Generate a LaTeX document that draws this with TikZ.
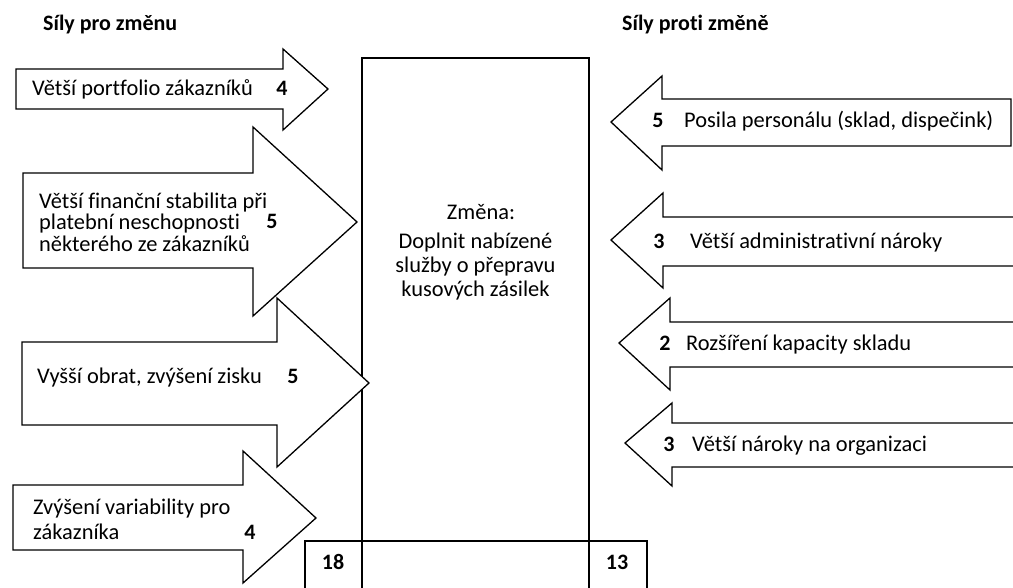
\documentclass[tikz,border=0pt]{standalone}
\usepackage{fontspec}
\setmainfont{Carlito}[Ligatures=NoCommon]

\begin{document}
\begin{tikzpicture}[x=1pt,y=-1pt,
  force/.style={draw=black, line width=1.3pt, line join=miter, fill=white},
  frame/.style={draw=black, line width=2pt},
  lbl/.style={font=\fontsize{22.4}{22}\selectfont, inner sep=0pt, anchor=base west, align=left},
  num/.style={font=\fontsize{22}{22}\selectfont\bfseries, inner sep=0pt, anchor=base},
  heading/.style={font=\fontsize{22}{22}\selectfont\bfseries, inner sep=0pt, anchor=base west},
]
\useasboundingbox (0,0) rectangle (1013,588);

% headings
\node[heading] (pro) at (43,31) {Síly pro změnu};
\node[heading] (proti) at (622,31) {Síly proti změně};

% central change box with the score boxes below it
\draw[frame] (362,58) rectangle (589,600);
\draw[frame] (305,600) -- (305,541) -- (647,541) -- (647,600);
\node[align=center, inner sep=0pt, anchor=base, font=\fontsize{22.4}{22}\selectfont] (zmena) at (481,220) {Změna:};
\node[align=center, inner sep=0pt, anchor=north, font=\fontsize{22.4}{24}\selectfont] (popis) at (475.5,233)
  {Doplnit nabízené\\služby o přepravu\\kusových zásilek};
\node[num] (sumpro) at (333,569) {18};
\node[num] (sumproti) at (617,569) {13};

% forces for the change (pointing right)
\draw[force] (16,69) -- (283,69) -- (283,49) -- (328,89) -- (283,130) -- (283,109) -- (16,109) -- cycle;
\draw[force] (23,173) -- (253,173) -- (253,127) -- (357,222) -- (253,316) -- (253,268) -- (23,268) -- cycle;
\draw[force] (22,342) -- (277,342) -- (277,298) -- (369,383) -- (277,467) -- (277,425) -- (22,425) -- cycle;
\draw[force] (13,485) -- (243,485) -- (243,451) -- (316,518) -- (243,583) -- (243,550) -- (13,550) -- cycle;

\node[lbl] (p1) at (32,96) {Větší portfolio zákazníků};
\node[num] (p1n) at (282,96) {4};
\node[lbl, font=\fontsize{22.4}{21.5}\selectfont, anchor=west] (p2) at (39,222)
  {Větší finanční stabilita při\\platební neschopnosti\\některého ze zákazníků};
\node[num] (p2n) at (272,229) {5};
\node[lbl] (p3) at (37,384) {Vyšší obrat, zvýšení zisku};
\node[num] (p3n) at (293,384) {5};
\node[lbl, font=\fontsize{22.4}{25}\selectfont, anchor=west] (p4) at (33,519.5)
  {Zvýšení variability pro\\zákazníka};
\node[num] (p4n) at (250,539) {4};

% forces against the change (pointing left)
\draw[force] (611,122) -- (662,76) -- (662,99) -- (1011,99) -- (1011,146) -- (662,146) -- (662,170) -- cycle;
\draw[force] (611,240) -- (663,193) -- (663,217) -- (1030,217) -- (1030,266) -- (663,266) -- (663,288) -- cycle;
\draw[force] (619,343) -- (670,298) -- (670,322) -- (1030,322) -- (1030,367) -- (670,367) -- (670,390) -- cycle;
\draw[force] (625,443) -- (672,403) -- (672,423) -- (1030,423) -- (1030,467) -- (672,467) -- (672,486) -- cycle;

\node[num] (q1n) at (658,128) {5};
\node[lbl] (q1) at (684,128) {Posila personálu (sklad, dispečink)};
\node[num] (q2n) at (659,249) {3};
\node[lbl] (q2) at (690,249) {Větší administrativní nároky};
\node[num] (q3n) at (665,351) {2};
\node[lbl] (q3) at (686,351) {Rozšíření kapacity skladu};
\node[num] (q4n) at (669,451) {3};
\node[lbl] (q4) at (692,451) {Větší nároky na organizaci};
\end{tikzpicture}
\end{document}
